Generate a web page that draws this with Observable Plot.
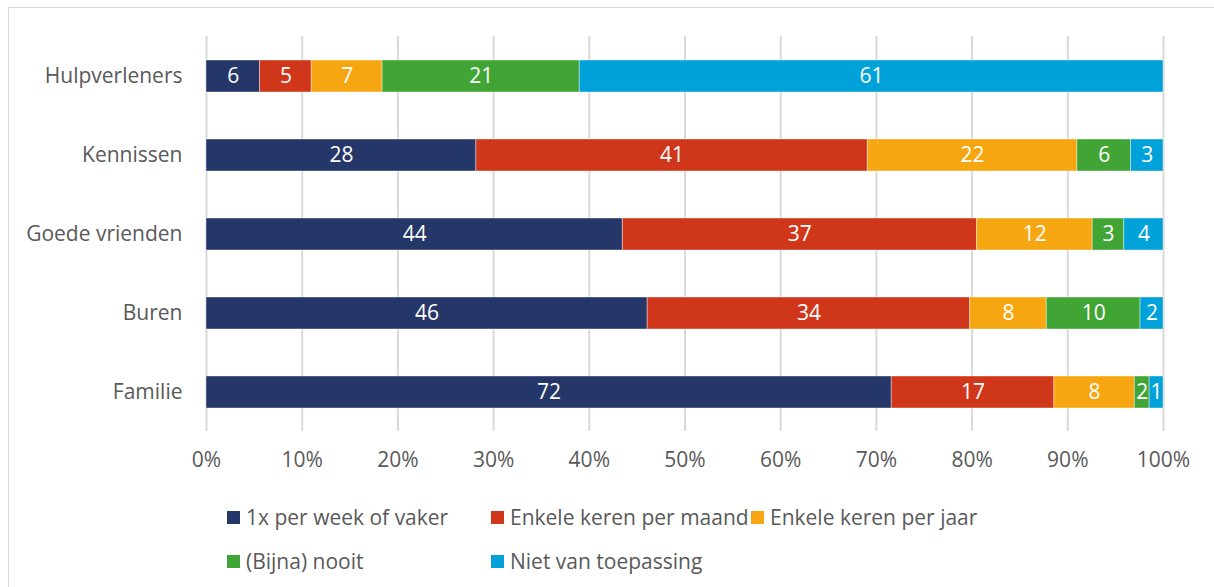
<!DOCTYPE html>
<html>
<head>
<meta charset="utf-8">
<script src="https://cdn.jsdelivr.net/npm/d3@7"></script>
<script src="https://cdn.jsdelivr.net/npm/@observablehq/plot@0.6"></script>
<style>
  html, body { margin: 0; padding: 0; background: #fff; overflow: hidden; }
  body { width: 1214px; height: 587px; position: relative; font-family: "Open Sans", sans-serif; color: #595959; }
  #frame { position: absolute; left: 8px; top: 7px; width: 1400px; height: 800px; border: 1px solid #d9d9d9; box-sizing: border-box; }
  #chart { position: absolute; left: 0; top: 0; }
  #legend { position: absolute; left: 227px; top: 503px; display: grid; grid-template-columns: 264px 260px auto; row-gap: 16px; font-size: 21px; line-height: 28px; }
  .item { display: flex; align-items: center; white-space: nowrap; }
  .sw { width: 13px; height: 13px; margin-right: 6px; flex: none; }
</style>
</head>
<body>
<div id="frame"></div>
<div id="chart"></div>
<div id="legend"></div>
<script>
const categories = ["Hulpverleners", "Kennissen", "Goede vrienden", "Buren", "Familie"];
const seriesNames = ["1x per week of vaker", "Enkele keren per maand", "Enkele keren per jaar", "(Bijna) nooit", "Niet van toepassing"];
const weekly = [5.6, 28.2, 43.5, 46.1, 71.6];
const monthly = [5.4, 40.9, 37.0, 33.7, 17.0];
const yearly = [7.4, 21.9, 12.1, 8.0, 8.4];
const never = [20.6, 5.6, 3.3, 9.8, 1.55];
const notApplicable = [61.0, 3.4, 4.1, 2.4, 1.45];
const colors = ["#253668", "#d0361a", "#f6a611", "#41a535", "#00a2d9"];
const xTicks = [0, 10, 20, 30, 40, 50, 60, 70, 80, 90, 100];

const seriesValues = [weekly, monthly, yearly, never, notApplicable];
const data = [];
seriesNames.forEach((s, si) => {
  categories.forEach((c, ci) => {
    data.push({cat: c, series: s, value: seriesValues[si][ci]});
  });
});

const chart = Plot.plot({
  width: 1214,
  height: 476,
  marginTop: 36,
  marginBottom: 45,
  marginLeft: 206,
  marginRight: 51,
  style: {fontFamily: "Open Sans, sans-serif", fontSize: "21px", color: "#595959", background: "transparent"},
  x: {domain: [0, 100], ticks: xTicks, tickFormat: d => d + "%", label: null, tickSize: 0, tickPadding: 21},
  y: {domain: categories, label: null, tickSize: 0, tickPadding: 24, paddingInner: 0.6, paddingOuter: 0.3},
  color: {domain: seriesNames, range: colors},
  marks: [
    Plot.ruleX(xTicks, {stroke: "#d9d9d9", strokeWidth: 2}),
    Plot.barX(data, Plot.stackX({x: "value", y: "cat", fill: "series", stroke: "#ffffff", strokeWidth: 0.8, strokeOpacity: 0.5, order: null})),
    Plot.text(data, Plot.stackX({x: "value", y: "cat", z: "series", order: null, text: d => String(Math.round(d.value)), fill: "#ffffff", fontSize: 21})),
    Plot.axisX({ticks: xTicks, tickFormat: d => d + "%", tickSize: 0, tickPadding: 21, label: null}),
    Plot.axisY({tickSize: 0, tickPadding: 24, label: null})
  ]
});
document.getElementById("chart").appendChild(chart);

const legend = document.getElementById("legend");
seriesNames.forEach((s, i) => {
  const item = document.createElement("div");
  item.className = "item";
  const sw = document.createElement("span");
  sw.className = "sw";
  sw.style.background = colors[i];
  const t = document.createElement("span");
  t.textContent = s;
  item.appendChild(sw);
  item.appendChild(t);
  legend.appendChild(item);
});
</script>
</body>
</html>
